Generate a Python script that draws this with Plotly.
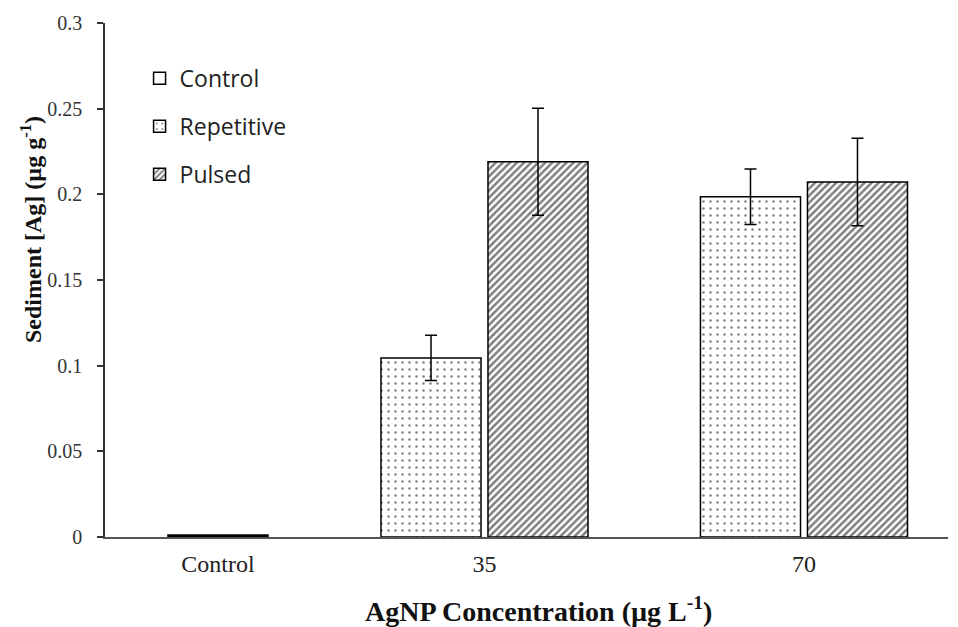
import plotly.graph_objects as go

# ---- data ----
categories = ["Control", "35", "70"]
series_names = ["Control", "Repetitive", "Pulsed"]
control_vals = [0.0012, None, None]
repetitive_vals = [None, 0.1045, 0.1986]
repetitive_err = [None, 0.0132, 0.0162]
pulsed_vals = [None, 0.2190, 0.2072]
pulsed_err = [None, 0.0312, 0.0256]
y_ticks = [0, 0.05, 0.1, 0.15, 0.2, 0.25, 0.3]
y_tick_labels = ["0", "0.05", "0.1", "0.15", "0.2", "0.25", "0.3"]
x_title = "<b>AgNP Concentration (µg L<sup>-1</sup>)</b>"
y_title = "<b>Sediment [Ag] (µg g<sup>-1</sup>)</b>"

# ---- layout constants (positions of category centres on a numeric axis) ----
cat_centre = [1.056, 3.547, 6.533]
x_range = [0, 7.879]
bar_w = 0.935
slot = 0.5

serif = "Liberation Serif"
sans = "Open Sans"

fig = go.Figure()

fig.add_bar(
    name=series_names[0], x=cat_centre, y=control_vals, width=bar_w,
    marker=dict(color="black", line=dict(color="black", width=1.5)),
    legendgroup="a", showlegend=False,
)
fig.add_bar(
    name=series_names[0], x=[None], y=[None], legendgroup="a0", legendrank=1,
    marker=dict(color="white", line=dict(color="black", width=1.5)),
)
fig.add_bar(
    name=series_names[1], x=cat_centre, y=repetitive_vals, width=bar_w, offset=-slot - bar_w / 2,
    marker=dict(color="white", line=dict(color="black", width=1.5),
                pattern=dict(shape=".", fgcolor="black", bgcolor="white", size=7, solidity=0.1)),
    error_y=dict(type="data", array=repetitive_err, color="black", thickness=1.5, width=6),
    legendgroup="b", legendrank=2,
)
fig.add_bar(
    name=series_names[2], x=cat_centre, y=pulsed_vals, width=bar_w, offset=slot - bar_w / 2,
    marker=dict(color="white", line=dict(color="black", width=1.5),
                pattern=dict(shape="/", fgcolor="black", bgcolor="white", size=5, solidity=0.5)),
    error_y=dict(type="data", array=pulsed_err, color="black", thickness=1.5, width=6),
    legendgroup="c", legendrank=3,
)

fig.update_layout(
    width=958, height=627,
    margin=dict(l=105, r=10, t=23, b=90),
    plot_bgcolor="white", paper_bgcolor="white",
    barmode="overlay",
    showlegend=True,
    legend=dict(x=0.041, y=0.934, xanchor="left", yanchor="top",
                font=dict(family=sans, size=23, color="#222"),
                traceorder="grouped", tracegroupgap=15,
                bgcolor="rgba(0,0,0,0)", itemwidth=30),
    xaxis=dict(range=x_range, tickvals=cat_centre, ticktext=categories,
               showgrid=False, zeroline=False, showline=True, linecolor="#555", linewidth=1.5,
               ticks="", ticklabelstandoff=4,
               tickfont=dict(family=serif, size=24, color="#222")),
    yaxis=dict(range=[0, 0.3], tickvals=y_ticks, ticktext=y_tick_labels,
               showgrid=False, zeroline=False, showline=True, linecolor="#333", linewidth=1.5,
               ticks="outside", ticklen=6, tickcolor="#333", tickwidth=1.5, ticklabelstandoff=11,
               tickfont=dict(family=serif, size=20, color="#333")),
    annotations=[
        dict(text=x_title, xref="paper", yref="paper", x=(538 - 105) / 843, y=-(609 - 537) / 514,
             xanchor="center", yanchor="middle", showarrow=False,
             font=dict(family=serif, size=28, color="#111")),
        dict(text=y_title, xref="paper", yref="paper", x=-(105 - 31) / 843, y=(537 - 230) / 514,
             xanchor="center", yanchor="middle", showarrow=False, textangle=-90,
             font=dict(family=serif, size=24, color="#111")),
    ],
)

fig.write_html("out.html")
